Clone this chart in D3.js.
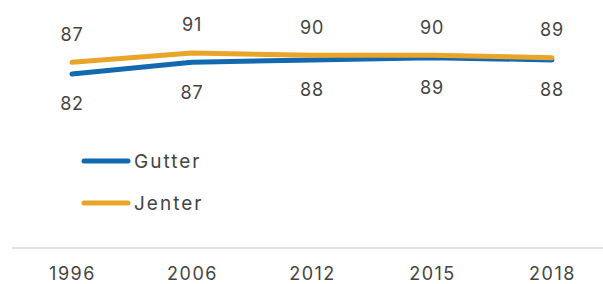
<!DOCTYPE html>
<html>
<head>
<meta charset="utf-8">
<script src="https://cdn.jsdelivr.net/npm/d3@7"></script>
<style>
  body { margin: 0; background: #fff; }
  text { font-family: "Inter", "Roboto", sans-serif; fill: #444; }
</style>
</head>
<body>
<div id="chart"></div>
<script>
var years = ["1996", "2006", "2012", "2015", "2018"];
var gutter = [82, 87, 88, 89, 88];
var jenter = [87, 91, 90, 90, 89];
var seriesNames = ["Gutter", "Jenter"];
var colors = ["#1269b0", "#e9a52a"];

var width = 603, height = 284;

var svg = d3.select("#chart").append("svg")
  .attr("width", width)
  .attr("height", height);

var x = d3.scalePoint().domain(years).range([72, 552]);
var y = d3.scaleLinear().domain([0, 100]).range([265, 32]);

/* baseline + year ticks */
var xAxis = d3.axisBottom(x).tickSize(0).tickPadding(19);
var axisG = svg.append("g")
  .attr("transform", "translate(0,248)")
  .call(xAxis);
axisG.select(".domain").remove();
axisG.append("line")
  .attr("x1", 12).attr("x2", width)
  .attr("stroke", "#d9d9d9").attr("stroke-width", 1.5);
axisG.selectAll("text")
  .attr("font-size", 18)
  .attr("fill", "#444")
  .style("letter-spacing", "1.5px")
  .style("font-family", "Inter, Roboto, sans-serif");

var data = [gutter, jenter];

var line = d3.line()
  .x(function (d, i) { return x(years[i]); })
  .y(function (d) { return y(d); });

svg.selectAll(".line")
  .data(data).enter()
  .append("path")
  .attr("class", "line")
  .attr("d", function (d) { return line(d); })
  .attr("fill", "none")
  .attr("stroke", function (d, i) { return colors[i]; })
  .attr("stroke-width", 5)
  .attr("stroke-linecap", "round")
  .attr("stroke-linejoin", "round");

/* value labels: Gutter under, Jenter over */
svg.selectAll(".lblG")
  .data(gutter).enter()
  .append("text")
  .attr("x", function (d, i) { return x(years[i]); })
  .attr("y", function (d) { return y(d) + 30; })
  .attr("dy", "0.35em")
  .attr("text-anchor", "middle")
  .attr("font-size", 18)
  .style("letter-spacing", "0.8px")
  .text(function (d) { return d; });

svg.selectAll(".lblJ")
  .data(jenter).enter()
  .append("text")
  .attr("x", function (d, i) { return x(years[i]); })
  .attr("y", function (d) { return y(d) - 28; })
  .attr("dy", "0.35em")
  .attr("text-anchor", "middle")
  .attr("font-size", 18)
  .style("letter-spacing", "0.8px")
  .text(function (d) { return d; });

/* legend */
var legend = svg.selectAll(".leg")
  .data(seriesNames).enter()
  .append("g")
  .attr("transform", function (d, i) { return "translate(84," + (161 + i * 42) + ")"; });
legend.append("line")
  .attr("x1", 0).attr("x2", 44)
  .attr("stroke", function (d, i) { return colors[i]; })
  .attr("stroke-width", 5)
  .attr("stroke-linecap", "round");
legend.append("text")
  .attr("x", 50)
  .attr("dy", "0.35em")
  .attr("font-size", 19)
  .style("letter-spacing", "2px")
  .text(function (d) { return d; });
</script>
</body>
</html>
